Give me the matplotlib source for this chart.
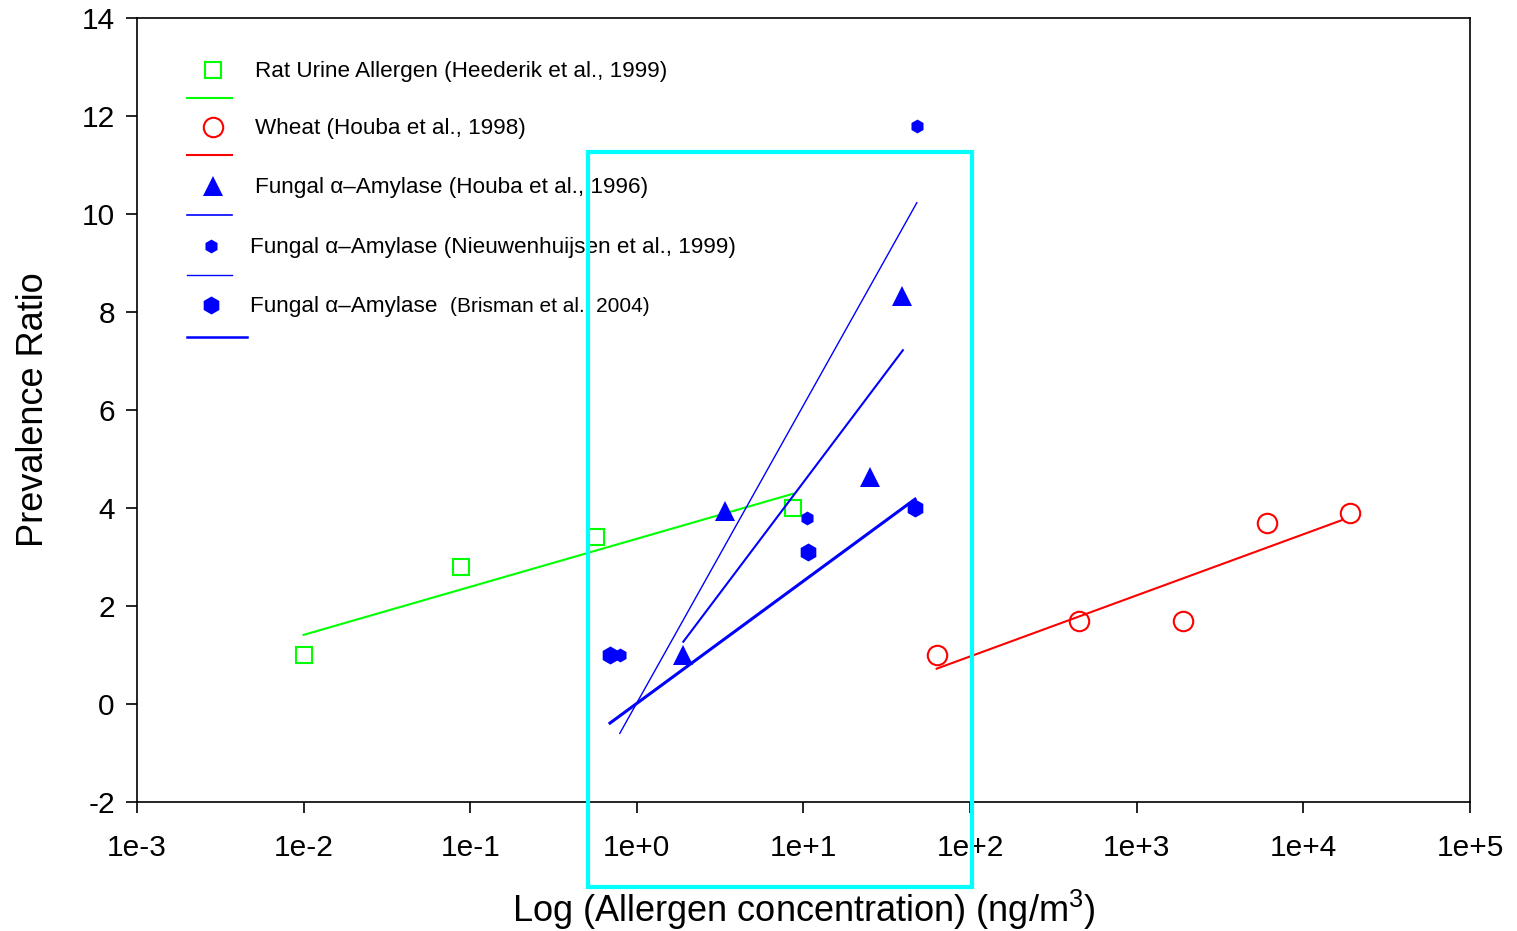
import numpy as np
import matplotlib.pyplot as plt
from matplotlib.patches import Rectangle

plt.rcParams['font.family'] = ['Liberation Sans', 'DejaVu Sans']
plt.rcParams['mathtext.default'] = 'regular'
plt.rcParams['axes.unicode_minus'] = False

# Rat urine allergen (Heederik et al., 1999)
rat_x = [0.01, 0.088, 0.57, 8.65]
rat_y = [1.0, 2.8, 3.4, 4.0]
rat_fit_x = [0.01, 8.65]
rat_fit_y = [1.41, 4.29]

# Wheat (Houba et al., 1998)
wheat_x = [63, 451, 1900, 6050, 19000]
wheat_y = [1.0, 1.7, 1.7, 3.7, 3.9]
wheat_fit_x = [63, 17300]
wheat_fit_y = [0.72, 3.76]

# Fungal alpha-amylase (Houba et al., 1996)
houba_x = [1.89, 3.38, 25.2, 39.0]
houba_y = [1.0, 3.94, 4.63, 8.33]
houba_fit_x = [1.9, 39.5]
houba_fit_y = [1.27, 7.22]

# Fungal alpha-amylase (Nieuwenhuijsen et al., 1999)
nieuw_x = [0.79, 10.5, 48.0]
nieuw_y = [1.0, 3.8, 11.8]
nieuw_fit_x = [0.79, 47.9]
nieuw_fit_y = [-0.60, 10.23]

# Fungal alpha-amylase (Brisman et al., 2004)
brisman_x = [0.69, 10.7, 46.7]
brisman_y = [1.0, 3.1, 4.0]
brisman_fit_x = [0.69, 46.7]
brisman_fit_y = [-0.39, 4.18]

# highlighted concentration window
box_x = [0.51, 103]
box_y = [-3.73, 11.27]

x_ticks = [1e-3, 1e-2, 1e-1, 1e0, 1e1, 1e2, 1e3, 1e4, 1e5]
x_labels = ['1e-3', '1e-2', '1e-1', '1e+0', '1e+1', '1e+2', '1e+3', '1e+4', '1e+5']
y_ticks = np.arange(-2, 15, 2)

fig = plt.figure(figsize=(15.17, 9.31), dpi=100)
ax = fig.add_axes([0.0903, 0.1386, 0.8787, 0.8421])

green, red, blue, cyan = '#00ff00', '#ff0000', '#0000ff', '#00ffff'

ax.plot(rat_fit_x, rat_fit_y, color=green, lw=1.5)
ax.plot(rat_x, rat_y, 's', ms=12, mfc='none', mec=green, mew=1.5)

ax.plot(wheat_fit_x, wheat_fit_y, color=red, lw=1.5)
ax.plot(wheat_x, wheat_y, 'o', ms=14, mfc='none', mec=red, mew=1.5)

ax.plot(houba_fit_x, houba_fit_y, color=blue, lw=1.5)
ax.plot(houba_x, houba_y, '^', ms=15, color=blue, mew=0)

ax.plot(nieuw_fit_x, nieuw_fit_y, color=blue, lw=1.0)
ax.plot(nieuw_x, nieuw_y, 'h', ms=10, color=blue, mew=0)

ax.plot(brisman_fit_x, brisman_fit_y, color=blue, lw=2.2)
ax.plot(brisman_x, brisman_y, 'h', ms=13, color=blue, mew=0)

ax.set_xscale('log')
ax.set_xlim(1e-3, 1e5)
ax.set_ylim(-2, 14)
ax.set_xticks(x_ticks)
ax.set_xticklabels(x_labels)
ax.minorticks_off()
ax.set_yticks(y_ticks)
ax.tick_params(direction='out', length=8, width=1.2, labelsize=21.5, top=False, right=False)
ax.tick_params(axis='x', pad=15)
ax.tick_params(axis='y', pad=8)
for s in ax.spines.values():
    s.set_linewidth(1.2)

ax.set_xlabel('Log (Allergen concentration) (ng/m$^3$)', fontsize=26, labelpad=19)
ax.set_ylabel('Prevalence Ratio', fontsize=26, labelpad=22)

# legend: marker above a short line sample, text beside
legend_rows = [
    (dict(marker='s', ms=12, mfc='none', mec=green, mew=1.5), green, 1.5, 0.057, 0.934, 0.898, 0.0713,
     0.0885, 'Rat Urine Allergen (Heederik et al., 1999)'),
    (dict(marker='o', ms=14, mfc='none', mec=red, mew=1.5), red, 1.5, 0.057, 0.861, 0.825, 0.0713,
     0.0885, 'Wheat (Houba et al., 1998)'),
    (dict(marker='^', ms=15, color=blue, mew=0), blue, 1.2, 0.057, 0.786, 0.749, 0.0713,
     0.0885, 'Fungal α–Amylase (Houba et al., 1996)'),
    (dict(marker='h', ms=10, color=blue, mew=0), blue, 1.0, 0.0555, 0.709, 0.672, 0.0713,
     0.0848, 'Fungal α–Amylase (Nieuwenhuijsen et al., 1999)'),
    (dict(marker='h', ms=13, color=blue, mew=0), blue, 1.8, 0.0555, 0.634, 0.593, 0.0825,
     0.0848, 'Fungal α–Amylase'),
]
for mk, col, lw, mx, my, ly, lx1, tx, label in legend_rows:
    ax.plot([mx], [my], transform=ax.transAxes, clip_on=False, ls='none', **mk)
    ax.plot([0.0375, lx1], [ly, ly], color=col, lw=lw, transform=ax.transAxes, clip_on=False)
    t = ax.text(tx, my - 0.002, label, transform=ax.transAxes, fontsize=16.2, va='center', ha='left')
ax.annotate('(Brisman et al., 2004)', xy=(1, 0.5), xycoords=t, xytext=(9, 0),
            textcoords='offset points', fontsize=15, va='center', ha='left')

rect = Rectangle((box_x[0], box_y[0]), box_x[1] - box_x[0], box_y[1] - box_y[0],
                 fill=False, edgecolor=cyan, lw=3, clip_on=False, zorder=10)
ax.add_patch(rect)

fig.savefig('out.png', dpi=100)
